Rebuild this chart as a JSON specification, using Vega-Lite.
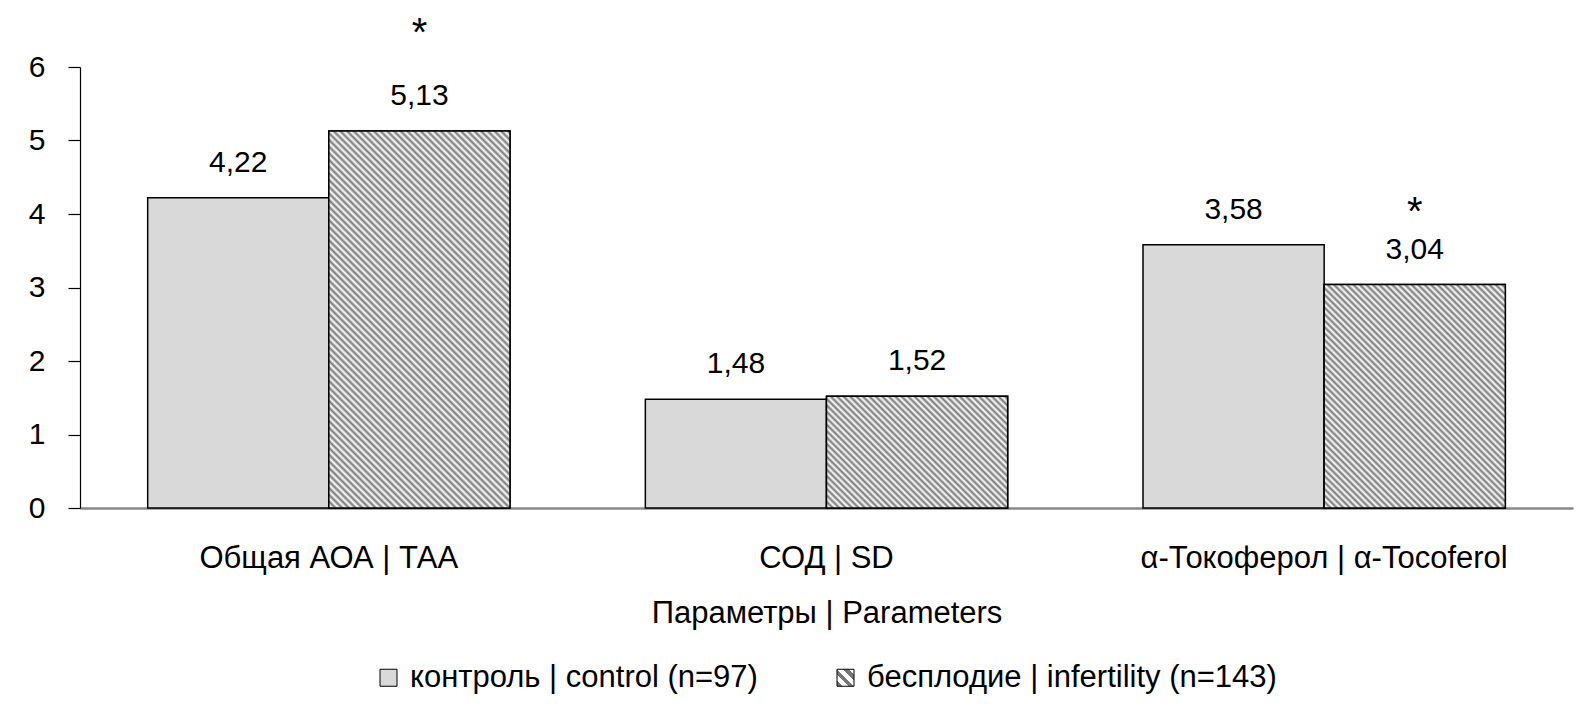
{
"$schema":"https://vega.github.io/schema/vega-lite/v6.json",
"width":1493,"height":441,
"autosize":{"type":"none"},
"padding":{"left":80,"top":67,"right":19,"bottom":203},
"config":{
"font":"Liberation Sans, Arial, sans-serif",
"view":{"stroke":null},
"locale":{"number":{"decimal":",","thousands":" ","grouping":[3],"currency":["",""]}},
"axis":{"grid":false,"labelFont":"Liberation Sans, Arial, sans-serif","titleFont":"Liberation Sans, Arial, sans-serif","labelColor":"#000","titleColor":"#000","titleFontWeight":"normal"}
},
"data":{"values":[
{"param":"Общая АОА | ТАА","group":"контроль | control (n=97)","value":4.22,"sig":""},
{"param":"Общая АОА | ТАА","group":"бесплодие | infertility (n=143)","value":5.13,"sig":"*"},
{"param":"СОД | SD","group":"контроль | control (n=97)","value":1.48,"sig":""},
{"param":"СОД | SD","group":"бесплодие | infertility (n=143)","value":1.52,"sig":""},
{"param":"α-Токоферол | α-Tocoferol","group":"контроль | control (n=97)","value":3.58,"sig":""},
{"param":"α-Токоферол | α-Tocoferol","group":"бесплодие | infertility (n=143)","value":3.04,"sig":"*"}
]},
"encoding":{
"x":{"field":"param","type":"nominal","sort":["Общая АОА | ТАА","СОД | SD","α-Токоферол | α-Tocoferol"],"scale":{"paddingInner":0.272,"paddingOuter":0.136},"title":"Параметры | Parameters","axis":{"labelAngle":0,"ticks":false,"domainColor":"#898989","domainWidth":2.5,"labelFontSize":31,"labelPadding":35,"labelLimit":0,"titleFontSize":31,"titlePadding":25}},
"xOffset":{"field":"group","type":"nominal","sort":["контроль | control (n=97)","бесплодие | infertility (n=143)"],"scale":{"paddingInner":0,"paddingOuter":0}},
"y":{"field":"value","type":"quantitative","title":null,"scale":{"domain":[0,6]},"axis":{"values":[0,1,2,3,4,5,6],"format":"d","tickSize":12,"labelPadding":23,"labelFontSize":30,"domainColor":"#000","tickColor":"#000","domainWidth":1.2,"tickWidth":1.2}}
},
"layer":[
{"mark":{"type":"bar","stroke":"#000","strokeWidth":1.5},
"encoding":{
"fill":{"field":"group","type":"nominal","sort":["контроль | control (n=97)","бесплодие | infertility (n=143)"],"scale":{"range":["#d9d9d9","#a6a6a6"]},"legend":null},
"opacity":{"field":"group","type":"nominal","sort":["контроль | control (n=97)","бесплодие | infertility (n=143)"],"scale":{"range":[1,1]},
"legend":{"title":null,"orient":"none","legendX":293,"legendY":595,"direction":"horizontal","symbolType":"square","symbolSize":289,"symbolOpacity":1,"symbolStrokeColor":"#000","symbolStrokeWidth":1,"labelFontSize":31,"labelFont":"Liberation Sans, Arial, sans-serif","labelColor":"#000","labelOffset":6,"columnPadding":72,"labelLimit":0,
"symbolFillColor":{"expr":"datum.value === 'бесплодие | infertility (n=143)' ? {gradient:'linear',x1:0,y1:1,x2:1,y2:0,stops:[{offset:0,color:'#777'},{offset:0.167,color:'#777'},{offset:0.167,color:'#fff'},{offset:0.333,color:'#fff'},{offset:0.333,color:'#777'},{offset:0.5,color:'#777'},{offset:0.5,color:'#fff'},{offset:0.667,color:'#fff'},{offset:0.667,color:'#777'},{offset:0.833,color:'#777'},{offset:0.833,color:'#fff'},{offset:1,color:'#fff'}]} : '#d9d9d9'"}}}
}},
{"transform":[{"filter":"datum.group === 'бесплодие | infertility (n=143)'"}],
"mark":{"type":"bar","stroke":"#000","strokeWidth":1.5},
"encoding":{
"fill":{"condition":[
{"test":"datum.param === 'Общая АОА | ТАА'","value":{"gradient":"linear","x1":0,"y1":1,"x2":0.5775,"y2":-0.2029,"stops":[
{"offset":0,"color":"#777"},{"offset":0.006,"color":"#fff"},{"offset":0.012,"color":"#777"},{"offset":0.018,"color":"#fff"},{"offset":0.024,"color":"#777"},{"offset":0.03,"color":"#fff"},{"offset":0.036,"color":"#777"},{"offset":0.042,"color":"#fff"},{"offset":0.048,"color":"#777"},{"offset":0.054,"color":"#fff"},{"offset":0.06,"color":"#777"},{"offset":0.066,"color":"#fff"},{"offset":0.072,"color":"#777"},{"offset":0.078,"color":"#fff"},{"offset":0.084,"color":"#777"},{"offset":0.09,"color":"#fff"},{"offset":0.096,"color":"#777"},{"offset":0.102,"color":"#fff"},{"offset":0.108,"color":"#777"},{"offset":0.114,"color":"#fff"},{"offset":0.12,"color":"#777"},{"offset":0.126,"color":"#fff"},{"offset":0.132,"color":"#777"},{"offset":0.138,"color":"#fff"},{"offset":0.144,"color":"#777"},{"offset":0.15,"color":"#fff"},{"offset":0.156,"color":"#777"},{"offset":0.162,"color":"#fff"},{"offset":0.168,"color":"#777"},{"offset":0.174,"color":"#fff"},{"offset":0.18,"color":"#777"},{"offset":0.186,"color":"#fff"},{"offset":0.192,"color":"#777"},{"offset":0.198,"color":"#fff"},{"offset":0.204,"color":"#777"},{"offset":0.21,"color":"#fff"},{"offset":0.216,"color":"#777"},{"offset":0.222,"color":"#fff"},{"offset":0.228,"color":"#777"},{"offset":0.234,"color":"#fff"},{"offset":0.24,"color":"#777"},{"offset":0.246,"color":"#fff"},{"offset":0.252,"color":"#777"},{"offset":0.258,"color":"#fff"},{"offset":0.264,"color":"#777"},{"offset":0.27,"color":"#fff"},{"offset":0.276,"color":"#777"},{"offset":0.282,"color":"#fff"},{"offset":0.288,"color":"#777"},{"offset":0.294,"color":"#fff"},{"offset":0.3,"color":"#777"},{"offset":0.306,"color":"#fff"},{"offset":0.312,"color":"#777"},{"offset":0.318,"color":"#fff"},{"offset":0.324,"color":"#777"},{"offset":0.33,"color":"#fff"},{"offset":0.336,"color":"#777"},{"offset":0.342,"color":"#fff"},{"offset":0.348,"color":"#777"},{"offset":0.354,"color":"#fff"},{"offset":0.36,"color":"#777"},{"offset":0.366,"color":"#fff"},{"offset":0.372,"color":"#777"},{"offset":0.378,"color":"#fff"},{"offset":0.384,"color":"#777"},{"offset":0.39,"color":"#fff"},{"offset":0.396,"color":"#777"},{"offset":0.402,"color":"#fff"},{"offset":0.408,"color":"#777"},{"offset":0.414,"color":"#fff"},{"offset":0.42,"color":"#777"},{"offset":0.426,"color":"#fff"},{"offset":0.432,"color":"#777"},{"offset":0.438,"color":"#fff"},{"offset":0.444,"color":"#777"},{"offset":0.45,"color":"#fff"},{"offset":0.456,"color":"#777"},{"offset":0.462,"color":"#fff"},{"offset":0.468,"color":"#777"},{"offset":0.474,"color":"#fff"},{"offset":0.48,"color":"#777"},{"offset":0.486,"color":"#fff"},{"offset":0.492,"color":"#777"},{"offset":0.498,"color":"#fff"},{"offset":0.504,"color":"#777"},{"offset":0.51,"color":"#fff"},{"offset":0.516,"color":"#777"},{"offset":0.522,"color":"#fff"},{"offset":0.528,"color":"#777"},{"offset":0.534,"color":"#fff"},{"offset":0.54,"color":"#777"},{"offset":0.546,"color":"#fff"},{"offset":0.552,"color":"#777"},{"offset":0.558,"color":"#fff"},{"offset":0.564,"color":"#777"},{"offset":0.57,"color":"#fff"},{"offset":0.576,"color":"#777"},{"offset":0.582,"color":"#fff"},{"offset":0.588,"color":"#777"},{"offset":0.594,"color":"#fff"},{"offset":0.6,"color":"#777"},{"offset":0.606,"color":"#fff"},{"offset":0.612,"color":"#777"},{"offset":0.618,"color":"#fff"},{"offset":0.624,"color":"#777"},{"offset":0.63,"color":"#fff"},{"offset":0.636,"color":"#777"},{"offset":0.642,"color":"#fff"},{"offset":0.648,"color":"#777"},{"offset":0.654,"color":"#fff"},{"offset":0.66,"color":"#777"},{"offset":0.666,"color":"#fff"},{"offset":0.672,"color":"#777"},{"offset":0.678,"color":"#fff"},{"offset":0.684,"color":"#777"},{"offset":0.69,"color":"#fff"},{"offset":0.696,"color":"#777"},{"offset":0.702,"color":"#fff"},{"offset":0.708,"color":"#777"},{"offset":0.714,"color":"#fff"},{"offset":0.72,"color":"#777"},{"offset":0.726,"color":"#fff"},{"offset":0.732,"color":"#777"},{"offset":0.738,"color":"#fff"},{"offset":0.744,"color":"#777"},{"offset":0.75,"color":"#fff"},{"offset":0.756,"color":"#777"},{"offset":0.762,"color":"#fff"},{"offset":0.768,"color":"#777"},{"offset":0.774,"color":"#fff"},{"offset":0.78,"color":"#777"},{"offset":0.786,"color":"#fff"},{"offset":0.792,"color":"#777"},{"offset":0.798,"color":"#fff"},{"offset":0.804,"color":"#777"},{"offset":0.81,"color":"#fff"},{"offset":0.816,"color":"#777"},{"offset":0.822,"color":"#fff"},{"offset":0.828,"color":"#777"},{"offset":0.834,"color":"#fff"},{"offset":0.84,"color":"#777"},{"offset":0.846,"color":"#fff"},{"offset":0.852,"color":"#777"},{"offset":0.858,"color":"#fff"},{"offset":0.864,"color":"#777"},{"offset":0.87,"color":"#fff"},{"offset":0.876,"color":"#777"},{"offset":0.882,"color":"#fff"},{"offset":0.888,"color":"#777"},{"offset":0.894,"color":"#fff"},{"offset":0.9,"color":"#777"},{"offset":0.906,"color":"#fff"},{"offset":0.912,"color":"#777"},{"offset":0.918,"color":"#fff"},{"offset":0.924,"color":"#777"},{"offset":0.93,"color":"#fff"},{"offset":0.936,"color":"#777"},{"offset":0.942,"color":"#fff"},{"offset":0.948,"color":"#777"},{"offset":0.954,"color":"#fff"},{"offset":0.96,"color":"#777"},{"offset":0.966,"color":"#fff"},{"offset":0.972,"color":"#777"},{"offset":0.978,"color":"#fff"},{"offset":0.984,"color":"#777"},{"offset":0.99,"color":"#fff"},{"offset":0.996,"color":"#777"}]}},
{"test":"datum.param === 'СОД | SD'","value":{"gradient":"linear","x1":0,"y1":1,"x2":1.1706,"y2":0.2757,"stops":[
{"offset":0,"color":"#777"},{"offset":0.011,"color":"#fff"},{"offset":0.022,"color":"#777"},{"offset":0.033,"color":"#fff"},{"offset":0.044,"color":"#777"},{"offset":0.055,"color":"#fff"},{"offset":0.066,"color":"#777"},{"offset":0.077,"color":"#fff"},{"offset":0.088,"color":"#777"},{"offset":0.099,"color":"#fff"},{"offset":0.11,"color":"#777"},{"offset":0.121,"color":"#fff"},{"offset":0.132,"color":"#777"},{"offset":0.143,"color":"#fff"},{"offset":0.154,"color":"#777"},{"offset":0.165,"color":"#fff"},{"offset":0.176,"color":"#777"},{"offset":0.187,"color":"#fff"},{"offset":0.198,"color":"#777"},{"offset":0.209,"color":"#fff"},{"offset":0.22,"color":"#777"},{"offset":0.231,"color":"#fff"},{"offset":0.242,"color":"#777"},{"offset":0.253,"color":"#fff"},{"offset":0.264,"color":"#777"},{"offset":0.275,"color":"#fff"},{"offset":0.286,"color":"#777"},{"offset":0.297,"color":"#fff"},{"offset":0.308,"color":"#777"},{"offset":0.319,"color":"#fff"},{"offset":0.33,"color":"#777"},{"offset":0.341,"color":"#fff"},{"offset":0.352,"color":"#777"},{"offset":0.363,"color":"#fff"},{"offset":0.374,"color":"#777"},{"offset":0.385,"color":"#fff"},{"offset":0.396,"color":"#777"},{"offset":0.407,"color":"#fff"},{"offset":0.418,"color":"#777"},{"offset":0.429,"color":"#fff"},{"offset":0.44,"color":"#777"},{"offset":0.451,"color":"#fff"},{"offset":0.462,"color":"#777"},{"offset":0.473,"color":"#fff"},{"offset":0.484,"color":"#777"},{"offset":0.495,"color":"#fff"},{"offset":0.506,"color":"#777"},{"offset":0.517,"color":"#fff"},{"offset":0.528,"color":"#777"},{"offset":0.539,"color":"#fff"},{"offset":0.55,"color":"#777"},{"offset":0.561,"color":"#fff"},{"offset":0.572,"color":"#777"},{"offset":0.583,"color":"#fff"},{"offset":0.594,"color":"#777"},{"offset":0.605,"color":"#fff"},{"offset":0.616,"color":"#777"},{"offset":0.627,"color":"#fff"},{"offset":0.638,"color":"#777"},{"offset":0.649,"color":"#fff"},{"offset":0.66,"color":"#777"},{"offset":0.671,"color":"#fff"},{"offset":0.682,"color":"#777"},{"offset":0.693,"color":"#fff"},{"offset":0.704,"color":"#777"},{"offset":0.715,"color":"#fff"},{"offset":0.726,"color":"#777"},{"offset":0.737,"color":"#fff"},{"offset":0.748,"color":"#777"},{"offset":0.759,"color":"#fff"},{"offset":0.77,"color":"#777"},{"offset":0.781,"color":"#fff"},{"offset":0.792,"color":"#777"},{"offset":0.803,"color":"#fff"},{"offset":0.814,"color":"#777"},{"offset":0.825,"color":"#fff"},{"offset":0.836,"color":"#777"},{"offset":0.847,"color":"#fff"},{"offset":0.858,"color":"#777"},{"offset":0.869,"color":"#fff"},{"offset":0.88,"color":"#777"},{"offset":0.891,"color":"#fff"},{"offset":0.902,"color":"#777"},{"offset":0.913,"color":"#fff"},{"offset":0.924,"color":"#777"},{"offset":0.935,"color":"#fff"},{"offset":0.946,"color":"#777"},{"offset":0.957,"color":"#fff"},{"offset":0.968,"color":"#777"},{"offset":0.979,"color":"#fff"},{"offset":0.99,"color":"#777"}]}},
{"test":"datum.param === 'α-Токоферол | α-Tocoferol'","value":{"gradient":"linear","x1":0,"y1":1,"x2":0.8865,"y2":-0.0922,"stops":[
{"offset":0,"color":"#777"},{"offset":0.008,"color":"#fff"},{"offset":0.016,"color":"#777"},{"offset":0.024,"color":"#fff"},{"offset":0.032,"color":"#777"},{"offset":0.04,"color":"#fff"},{"offset":0.048,"color":"#777"},{"offset":0.056,"color":"#fff"},{"offset":0.064,"color":"#777"},{"offset":0.072,"color":"#fff"},{"offset":0.08,"color":"#777"},{"offset":0.088,"color":"#fff"},{"offset":0.096,"color":"#777"},{"offset":0.104,"color":"#fff"},{"offset":0.112,"color":"#777"},{"offset":0.12,"color":"#fff"},{"offset":0.128,"color":"#777"},{"offset":0.136,"color":"#fff"},{"offset":0.144,"color":"#777"},{"offset":0.152,"color":"#fff"},{"offset":0.16,"color":"#777"},{"offset":0.168,"color":"#fff"},{"offset":0.176,"color":"#777"},{"offset":0.184,"color":"#fff"},{"offset":0.192,"color":"#777"},{"offset":0.2,"color":"#fff"},{"offset":0.208,"color":"#777"},{"offset":0.216,"color":"#fff"},{"offset":0.224,"color":"#777"},{"offset":0.232,"color":"#fff"},{"offset":0.24,"color":"#777"},{"offset":0.248,"color":"#fff"},{"offset":0.256,"color":"#777"},{"offset":0.264,"color":"#fff"},{"offset":0.272,"color":"#777"},{"offset":0.28,"color":"#fff"},{"offset":0.288,"color":"#777"},{"offset":0.296,"color":"#fff"},{"offset":0.304,"color":"#777"},{"offset":0.312,"color":"#fff"},{"offset":0.32,"color":"#777"},{"offset":0.328,"color":"#fff"},{"offset":0.336,"color":"#777"},{"offset":0.344,"color":"#fff"},{"offset":0.352,"color":"#777"},{"offset":0.36,"color":"#fff"},{"offset":0.368,"color":"#777"},{"offset":0.376,"color":"#fff"},{"offset":0.384,"color":"#777"},{"offset":0.392,"color":"#fff"},{"offset":0.4,"color":"#777"},{"offset":0.408,"color":"#fff"},{"offset":0.416,"color":"#777"},{"offset":0.424,"color":"#fff"},{"offset":0.432,"color":"#777"},{"offset":0.44,"color":"#fff"},{"offset":0.448,"color":"#777"},{"offset":0.456,"color":"#fff"},{"offset":0.464,"color":"#777"},{"offset":0.472,"color":"#fff"},{"offset":0.48,"color":"#777"},{"offset":0.488,"color":"#fff"},{"offset":0.496,"color":"#777"},{"offset":0.504,"color":"#fff"},{"offset":0.512,"color":"#777"},{"offset":0.52,"color":"#fff"},{"offset":0.528,"color":"#777"},{"offset":0.536,"color":"#fff"},{"offset":0.544,"color":"#777"},{"offset":0.552,"color":"#fff"},{"offset":0.56,"color":"#777"},{"offset":0.568,"color":"#fff"},{"offset":0.576,"color":"#777"},{"offset":0.584,"color":"#fff"},{"offset":0.592,"color":"#777"},{"offset":0.6,"color":"#fff"},{"offset":0.608,"color":"#777"},{"offset":0.616,"color":"#fff"},{"offset":0.624,"color":"#777"},{"offset":0.632,"color":"#fff"},{"offset":0.64,"color":"#777"},{"offset":0.648,"color":"#fff"},{"offset":0.656,"color":"#777"},{"offset":0.664,"color":"#fff"},{"offset":0.672,"color":"#777"},{"offset":0.68,"color":"#fff"},{"offset":0.688,"color":"#777"},{"offset":0.696,"color":"#fff"},{"offset":0.704,"color":"#777"},{"offset":0.712,"color":"#fff"},{"offset":0.72,"color":"#777"},{"offset":0.728,"color":"#fff"},{"offset":0.736,"color":"#777"},{"offset":0.744,"color":"#fff"},{"offset":0.752,"color":"#777"},{"offset":0.76,"color":"#fff"},{"offset":0.768,"color":"#777"},{"offset":0.776,"color":"#fff"},{"offset":0.784,"color":"#777"},{"offset":0.792,"color":"#fff"},{"offset":0.8,"color":"#777"},{"offset":0.808,"color":"#fff"},{"offset":0.816,"color":"#777"},{"offset":0.824,"color":"#fff"},{"offset":0.832,"color":"#777"},{"offset":0.84,"color":"#fff"},{"offset":0.848,"color":"#777"},{"offset":0.856,"color":"#fff"},{"offset":0.864,"color":"#777"},{"offset":0.872,"color":"#fff"},{"offset":0.88,"color":"#777"},{"offset":0.888,"color":"#fff"},{"offset":0.896,"color":"#777"},{"offset":0.904,"color":"#fff"},{"offset":0.912,"color":"#777"},{"offset":0.92,"color":"#fff"},{"offset":0.928,"color":"#777"},{"offset":0.936,"color":"#fff"},{"offset":0.944,"color":"#777"},{"offset":0.952,"color":"#fff"},{"offset":0.96,"color":"#777"},{"offset":0.968,"color":"#fff"},{"offset":0.976,"color":"#777"},{"offset":0.984,"color":"#fff"},{"offset":0.992,"color":"#777"},{"offset":1,"color":"#fff"}]}}
],"value":"#a6a6a6"}}},
{"mark":{"type":"text","baseline":"alphabetic","dy":-26,"fontSize":30,"color":"#000"},
"encoding":{"text":{"field":"value","type":"quantitative","format":".2f"}}},
{"transform":[{"filter":"datum.sig === '*' && datum.param === 'Общая АОА | ТАА'"}],
"mark":{"type":"text","baseline":"alphabetic","dy":-85,"fontSize":40,"color":"#000"},
"encoding":{"text":{"field":"sig","type":"nominal"}}},
{"transform":[{"filter":"datum.sig === '*' && datum.param === 'α-Токоферол | α-Tocoferol'"}],
"mark":{"type":"text","baseline":"alphabetic","dy":-60,"fontSize":40,"color":"#000"},
"encoding":{"text":{"field":"sig","type":"nominal"}}}
]
}
